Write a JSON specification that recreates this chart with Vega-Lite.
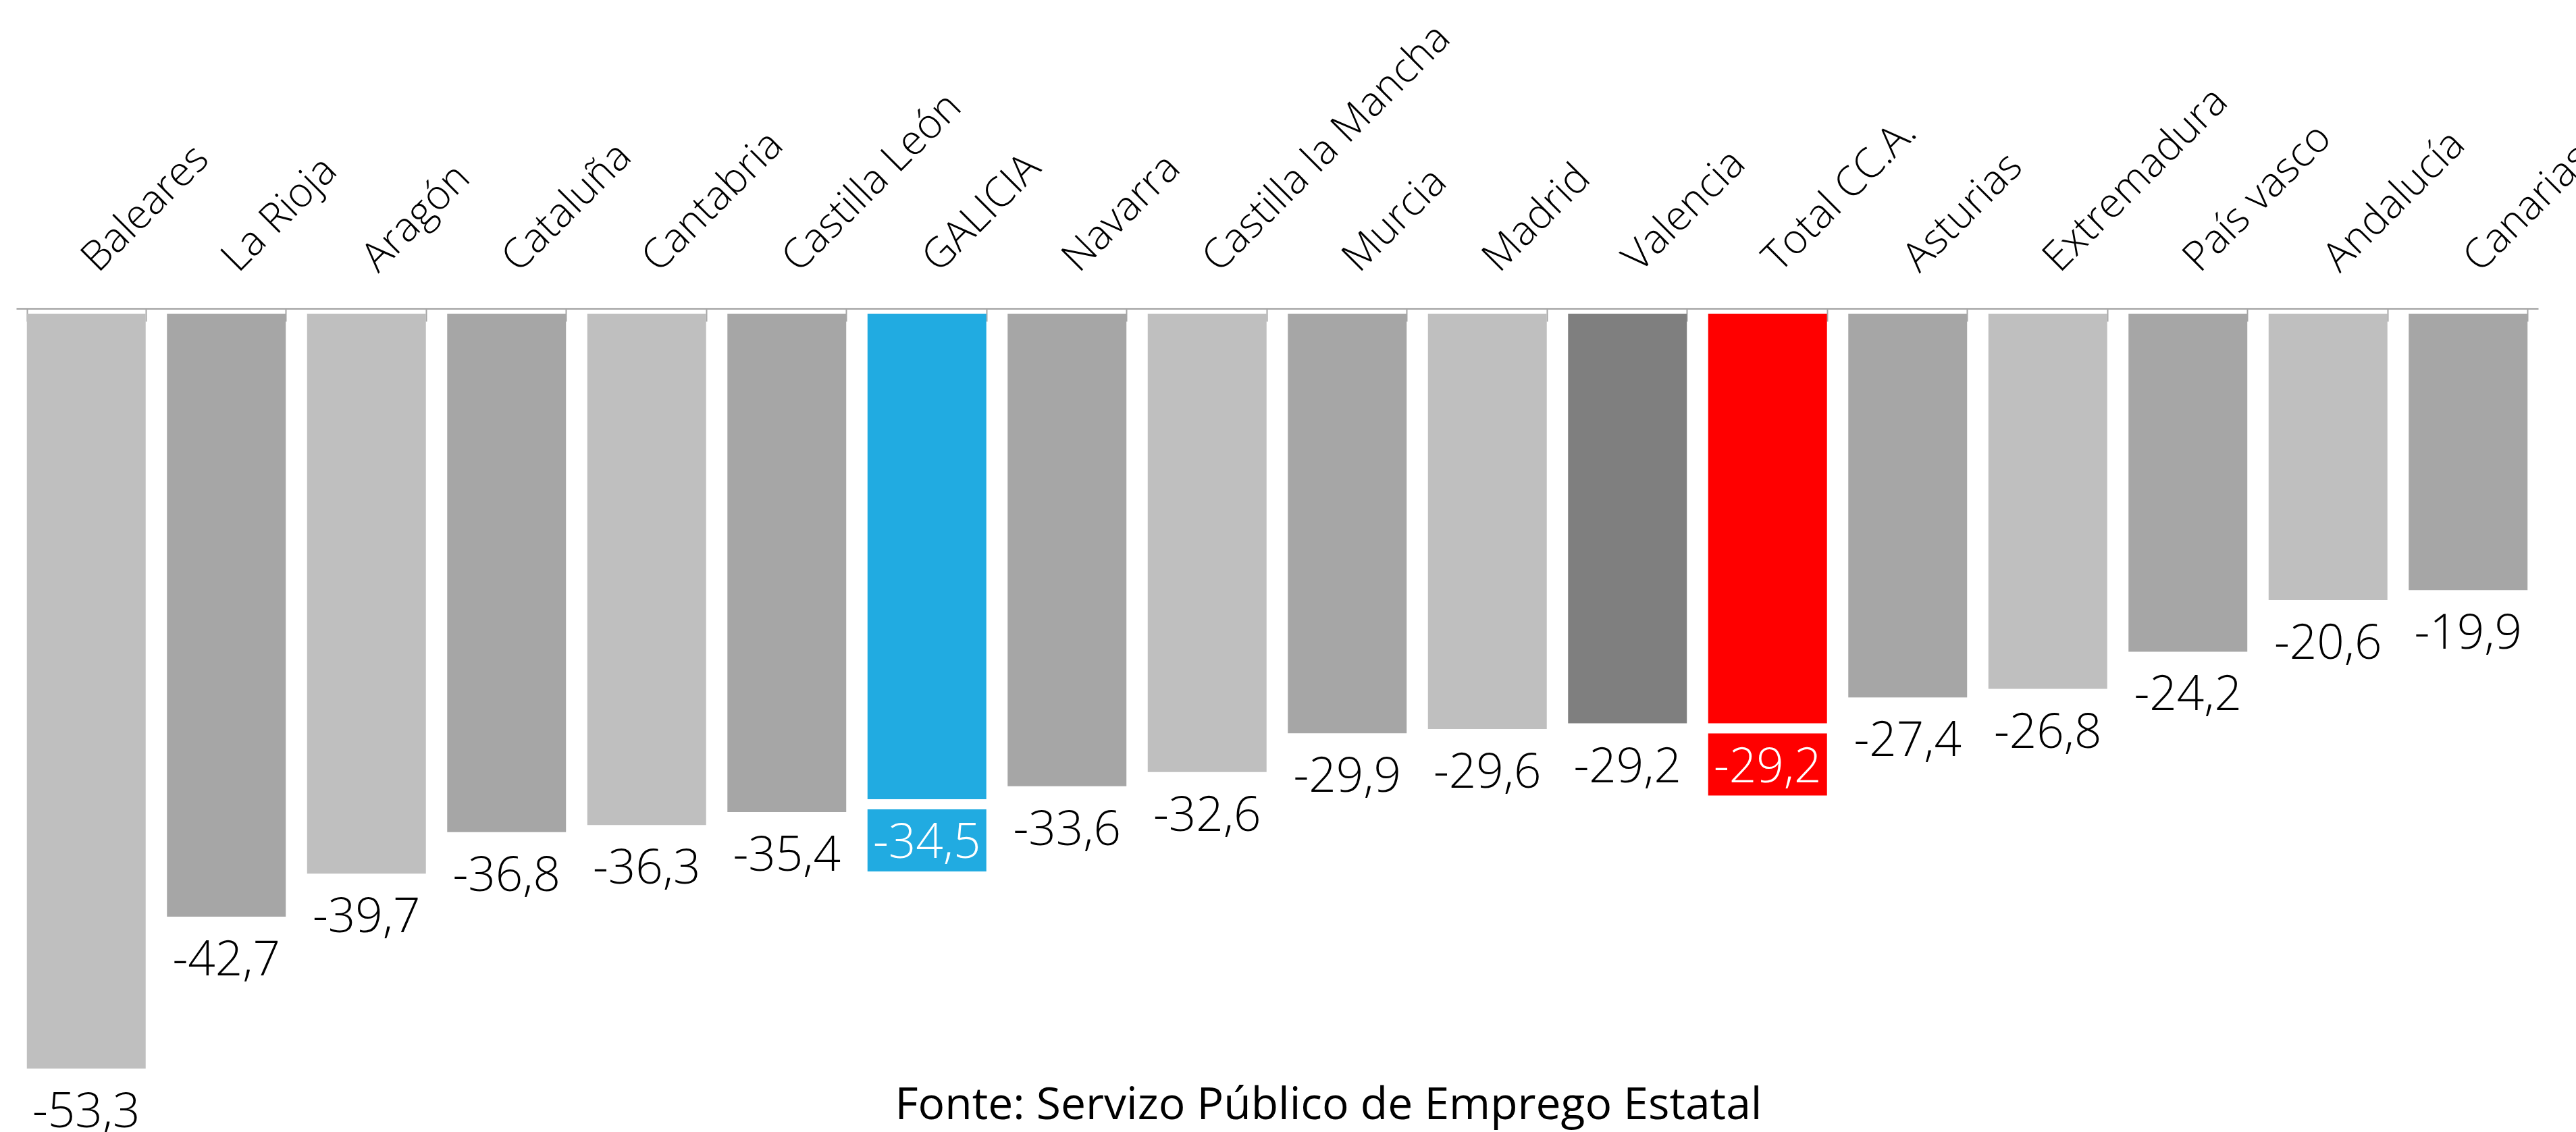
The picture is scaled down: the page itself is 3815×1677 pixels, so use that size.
{
  "$schema": "https://vega.github.io/schema/vega-lite/v6.json",
  "width": 3735,
  "height": 1215,
  "autosize": {"type": "none"},
  "padding": {"left": 24, "top": 457, "right": 56, "bottom": 5},
  "background": "white",
  "config": {
    "view": {"stroke": null},
    "font": "Open Sans",
    "locale": {"number": {"decimal": ",", "thousands": ".", "grouping": [3], "currency": ["", " €"], "minus": "-"}}
  },
  "title": {
    "text": "Fonte: Servizo Público de Emprego Estatal",
    "orient": "bottom",
    "frame": "group",
    "anchor": "middle",
    "offset": -78,
    "dx": 76,
    "font": "Open Sans",
    "fontSize": 66,
    "fontWeight": 400,
    "color": "black"
  },
  "data": {
    "values": [
      {"region": "Baleares", "valor": -53.3},
      {"region": "La Rioja", "valor": -42.7},
      {"region": "Aragón", "valor": -39.7},
      {"region": "Cataluña", "valor": -36.8},
      {"region": "Cantabria", "valor": -36.3},
      {"region": "Castilla León", "valor": -35.4},
      {"region": "GALICIA", "valor": -34.5},
      {"region": "Navarra", "valor": -33.6},
      {"region": "Castilla la Mancha", "valor": -32.6},
      {"region": "Murcia", "valor": -29.9},
      {"region": "Madrid", "valor": -29.6},
      {"region": "Valencia", "valor": -29.2},
      {"region": "Total CC.A.", "valor": -29.2},
      {"region": "Asturias", "valor": -27.4},
      {"region": "Extremadura", "valor": -26.8},
      {"region": "País vasco", "valor": -24.2},
      {"region": "Andalucía", "valor": -20.6},
      {"region": "Canarias", "valor": -19.9}
    ]
  },
  "encoding": {
    "x": {
      "field": "region",
      "type": "nominal",
      "sort": null,
      "scale": {"paddingInner": 0.152, "paddingOuter": 0.076},
      "axis": {
        "orient": "top",
        "title": null,
        "labelAngle": -45,
        "labelAlign": "left",
        "labelBaseline": "alphabetic",
        "labelFont": "Open Sans",
        "labelFontSize": 61,
        "labelFontWeight": 300,
        "labelColor": "black",
        "labelLimit": 1000,
        "labelOverlap": false,
        "labelBound": false,
        "labelFlush": false,
        "labelPadding": 71,
        "labelOffset": 17,
        "tickBand": "extent",
        "tickSize": -19,
        "tickColor": "#A6A6A6",
        "tickWidth": 2,
        "domainColor": "#A6A6A6",
        "domainWidth": 2.5
      }
    },
    "y": {
      "field": "valor",
      "type": "quantitative",
      "scale": {"domain": [-57.5, -0.24], "zero": false, "nice": false},
      "axis": null
    }
  },
  "layer": [
    {
      "mark": {"type": "bar"},
      "encoding": {
        "y2": {"datum": -0.6},
        "color": {
          "field": "region",
          "type": "nominal",
          "legend": null,
          "scale": {
            "domain": ["Baleares", "La Rioja", "Aragón", "Cataluña", "Cantabria", "Castilla León", "GALICIA", "Navarra", "Castilla la Mancha", "Murcia", "Madrid", "Valencia", "Total CC.A.", "Asturias", "Extremadura", "País vasco", "Andalucía", "Canarias"],
            "range": ["#BFBFBF", "#A6A6A6", "#BFBFBF", "#A6A6A6", "#BFBFBF", "#A6A6A6", "#21ABE1", "#A6A6A6", "#BFBFBF", "#A6A6A6", "#BFBFBF", "#7F7F7F", "#FF0000", "#A6A6A6", "#BFBFBF", "#A6A6A6", "#BFBFBF", "#A6A6A6"]
          }
        }
      }
    },
    {
      "transform": [{"filter": {"field": "region", "oneOf": ["GALICIA", "Total CC.A."]}}],
      "mark": {
        "type": "point",
        "shape": "M-1,-0.5227L1,-0.5227L1,0.5227L-1,0.5227Z",
        "size": 30976,
        "filled": true,
        "opacity": 1,
        "strokeWidth": 0,
        "yOffset": 61
      },
      "encoding": {
        "color": {"field": "region", "type": "nominal", "legend": null}
      }
    },
    {
      "mark": {
        "type": "text",
        "align": "center",
        "baseline": "middle",
        "dy": 66,
        "font": "Open Sans",
        "fontSize": 71,
        "fontWeight": 300
      },
      "encoding": {
        "text": {"field": "valor", "type": "quantitative", "format": ".1f"},
        "color": {
          "condition": {"test": "datum.region === 'GALICIA' || datum.region === 'Total CC.A.'", "value": "white"},
          "value": "black"
        }
      }
    }
  ]
}
